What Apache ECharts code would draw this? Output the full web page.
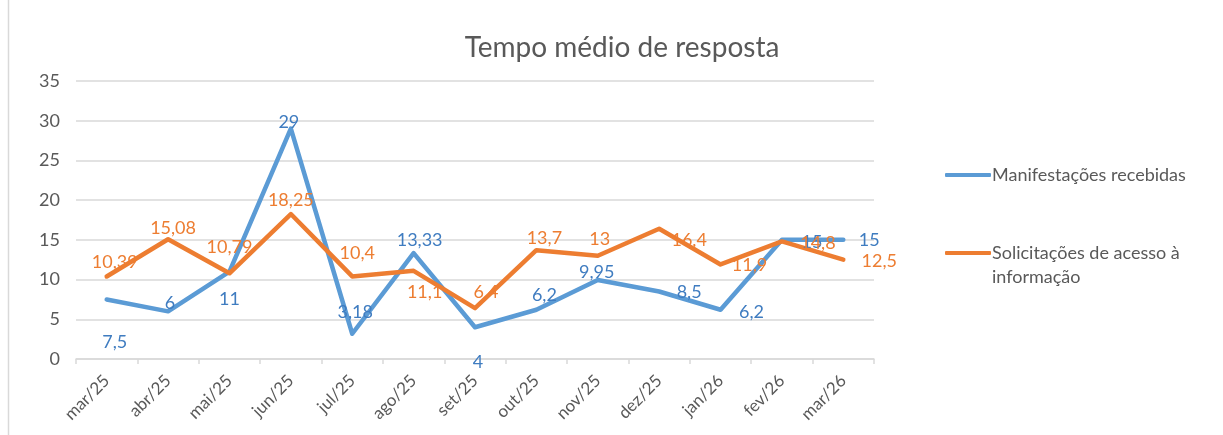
<!DOCTYPE html>
<html><head><meta charset="utf-8">
<script src="https://cdn.jsdelivr.net/npm/echarts@6/dist/echarts.min.js"></script>
<style>html,body{margin:0;padding:0;background:#fff}#c{width:1223px;height:435px}</style>
</head><body><div id="c"></div>
<script>
const categories = ['mar/25','abr/25','mai/25','jun/25','jul/25','ago/25','set/25','out/25','nov/25','dez/25','jan/26','fev/26','mar/26'];
const manifestacoes = [7.5, 6, 11, 29, 3.18, 13.33, 4, 6.2, 9.95, 8.5, 6.2, 15, 15];
const solicitacoes = [10.39, 15.08, 10.79, 18.25, 10.4, 11.1, 6.4, 13.7, 13, 16.4, 11.9, 14.8, 12.5];
const yTicks = [0, 5, 10, 15, 20, 25, 30, 35];
const seriesNames = ['Manifestações recebidas', 'Solicitações de acesso à informação'];

// label offsets [dx, dy] relative to point (visual placement only)
const blueOff = [[8,43],[2,-8],[0,28],[-2,-6],[3,-22],[6,-13],[3,35],[8,-15],[-1,-8],[30,1],[31,2],[30,2],[26,0]];
const orangeOff = [[8,-14],[5,-11],[0,-26],[0,-14],[5,-23],[11,21],[11,-16],[8,-12],[2,-17],[30,11],[29,1],[36,2],[36,1]];

const fmt = v => String(v).replace('.', ',');
const FONT = 'Lato';
function mk(vals, off, color) {
  return vals.map((v, i) => ({
    value: v,
    label: { show: true, position: 'inside', offset: off[i], formatter: p => fmt(p.value), color: color, fontSize: 18, fontFamily: FONT }
  }));
}

const chart = echarts.init(document.getElementById('c'));
chart.setOption({
  animation: false,
  backgroundColor: '#fff',
  title: { text: 'Tempo médio de resposta', left: 617, top: 29, textAlign: 'center',
    textStyle: { fontFamily: FONT, fontSize: 28, fontWeight: 'normal', color: '#595959' } },
  grid: { left: 76, right: 349, top: 81, bottom: 76 },
  legend: {
    orient: 'vertical', left: 940, top: 158, itemGap: 30, itemWidth: 46, itemHeight: 4,
    icon: 'roundRect',
    data: seriesNames,
    formatter: n => n === seriesNames[1] ? '\nSolicitações de acesso à\ninformação' : n,
    textStyle: { fontFamily: FONT, fontSize: 18, color: '#595959', lineHeight: 24, padding: [0,0,0,-4] }
  },
  xAxis: {
    type: 'category', data: categories, boundaryGap: true,
    axisLine: { lineStyle: { color: '#d9d9d9', width: 1.5 } },
    axisTick: { show: true, length: 5, lineStyle: { color: '#d9d9d9', width: 1.5 } },
    axisLabel: { rotate: 45, fontFamily: FONT, fontSize: 17, color: '#595959', margin: 19, interval: 0 }
  },
  yAxis: {
    type: 'value', min: 0, max: 35, interval: 5,
    axisLine: { show: false }, axisTick: { show: false },
    splitLine: { lineStyle: { color: '#d9d9d9', width: 1.5 } },
    axisLabel: { fontFamily: FONT, fontSize: 18, color: '#595959', margin: 16,
      formatter: v => yTicks.includes(v) ? String(v) : '' }
  },
  series: [
    { name: seriesNames[0], type: 'line', data: mk(manifestacoes, blueOff, '#3f7cc0'),
      symbol: 'circle', symbolSize: 0.1, showSymbol: true,
      lineStyle: { color: '#5b9bd5', width: 4.5, cap: 'round', join: 'round' },
      itemStyle: { color: '#5b9bd5' } },
    { name: seriesNames[1], type: 'line', data: mk(solicitacoes, orangeOff, '#ed7d31'),
      symbol: 'circle', symbolSize: 0.1, showSymbol: true,
      lineStyle: { color: '#ed7d31', width: 4.5, cap: 'round', join: 'round' },
      itemStyle: { color: '#ed7d31' } }
  ],
  graphic: [
    { type: 'line', shape: { x1: 8.5, y1: 0, x2: 8.5, y2: 435 }, style: { stroke: '#d9d9d9', lineWidth: 1.5 } }
  ]
});
</script></body></html>
